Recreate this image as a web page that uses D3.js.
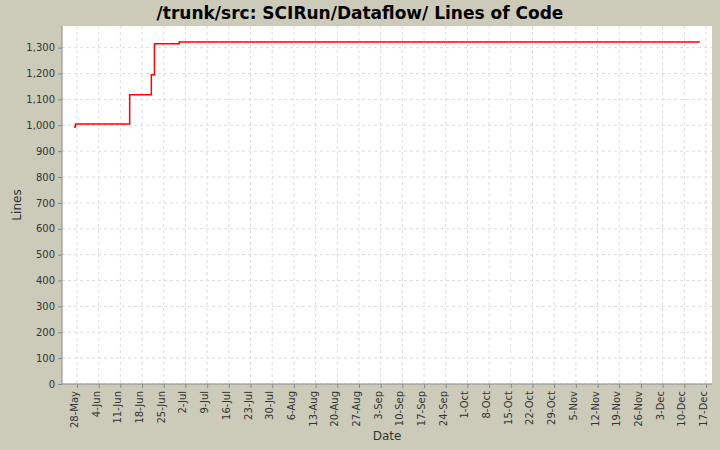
<!DOCTYPE html><html><head><meta charset="utf-8">
<script src="https://cdn.jsdelivr.net/npm/d3@7"></script>
<style>body{margin:0;background:#cccbb9}svg{display:block}text{font-family:"DejaVu Sans",sans-serif}</style></head><body>
<svg id="c" width="720" height="450"></svg>
<script>
const dates=["2006-05-27","2006-05-27","2006-06-14","2006-06-21","2006-06-22","2006-06-30","2006-12-15"];
const lines=[993,1005,1118,1195,1315,1322,1322];
const yTicks=[0,100,200,300,400,500,600,700,800,900,1000,1100,1200,1300];
const parse=d3.timeParse("%Y-%m-%d");
const data=dates.map((d,i)=>({d:parse(d),v:lines[i]}));
data[1].d=new Date(data[1].d.getTime()+12*3600e3);
const svg=d3.select("#c");
const L=62,R=712,T=26,B=384;
const x=d3.scaleTime().domain([parse("2006-05-23"),parse("2006-12-19")]).range([L,R]);
// calibrate: 28-May at 77, 17-Dec at 706
x.domain([x.domain()[0],x.domain()[1]]);
const d0=parse("2006-05-28"),d1=parse("2006-12-17");
const k=(d1-d0)/(706-77);
x.domain([new Date(d0-(77-L)*k),new Date(+d1+(R-706)*k)]);
const y=d3.scaleLinear().domain([0,1300]).range([B,37]);
y.domain([0,1300*(B-T)/(B-37)]);
svg.append("rect").attr("x",L).attr("y",T).attr("width",R-L).attr("height",B-T).attr("fill","#fff");
const xt=d3.timeWeek.range(d0,new Date(+d1+1));
const g=svg.append("g");
xt.forEach(t=>g.append("line").attr("x1",x(t)).attr("x2",x(t)).attr("y1",T).attr("y2",B).attr("stroke","#ddd").attr("stroke-dasharray","3,3"));
yTicks.forEach(t=>g.append("line").attr("x1",L).attr("x2",R).attr("y1",y(t)).attr("y2",y(t)).attr("stroke","#ddd").attr("stroke-dasharray","3,3"));
const ya=svg.append("g").attr("transform",`translate(${L},0)`).call(d3.axisLeft(y).tickValues(yTicks).tickSize(4).tickFormat(d3.format(",")));
const xa=svg.append("g").attr("transform",`translate(0,${B})`).call(d3.axisBottom(x).tickValues(xt).tickSize(4).tickFormat(d3.timeFormat("%-d-%b")));
[ya,xa].forEach(a=>{a.selectAll("path,line").attr("stroke","#888");a.selectAll("text").attr("font-size",10).attr("fill","#333");});
xa.select(".domain").remove();ya.select(".domain").remove();
svg.append("line").attr("x1",L).attr("x2",R).attr("y1",B).attr("y2",B).attr("stroke","#888");
svg.append("line").attr("x1",L).attr("x2",L).attr("y1",T).attr("y2",B).attr("stroke","#888");
xa.selectAll("text").attr("transform","rotate(-90)").attr("text-anchor","end").attr("x",-7).attr("y",-3).attr("dy","0.35em");
svg.append("path").datum(data).attr("fill","none").attr("stroke","#f00").attr("stroke-width",1.5)
 .attr("d",d3.line().x(d=>x(d.d)).y(d=>y(d.v)).curve(d3.curveStepAfter));
svg.append("text").attr("x",360).attr("y",19).attr("text-anchor","middle").attr("font-size",17).attr("font-weight","bold").attr("fill","#000").text("/trunk/src: SCIRun/Dataflow/ Lines of Code");
svg.append("text").attr("x",387).attr("y",440).attr("text-anchor","middle").attr("font-size",12).attr("fill","#333").text("Date");
svg.append("text").attr("transform","translate(21,205) rotate(-90)").attr("text-anchor","middle").attr("font-size",12).attr("fill","#333").text("Lines");
</script></body></html>
